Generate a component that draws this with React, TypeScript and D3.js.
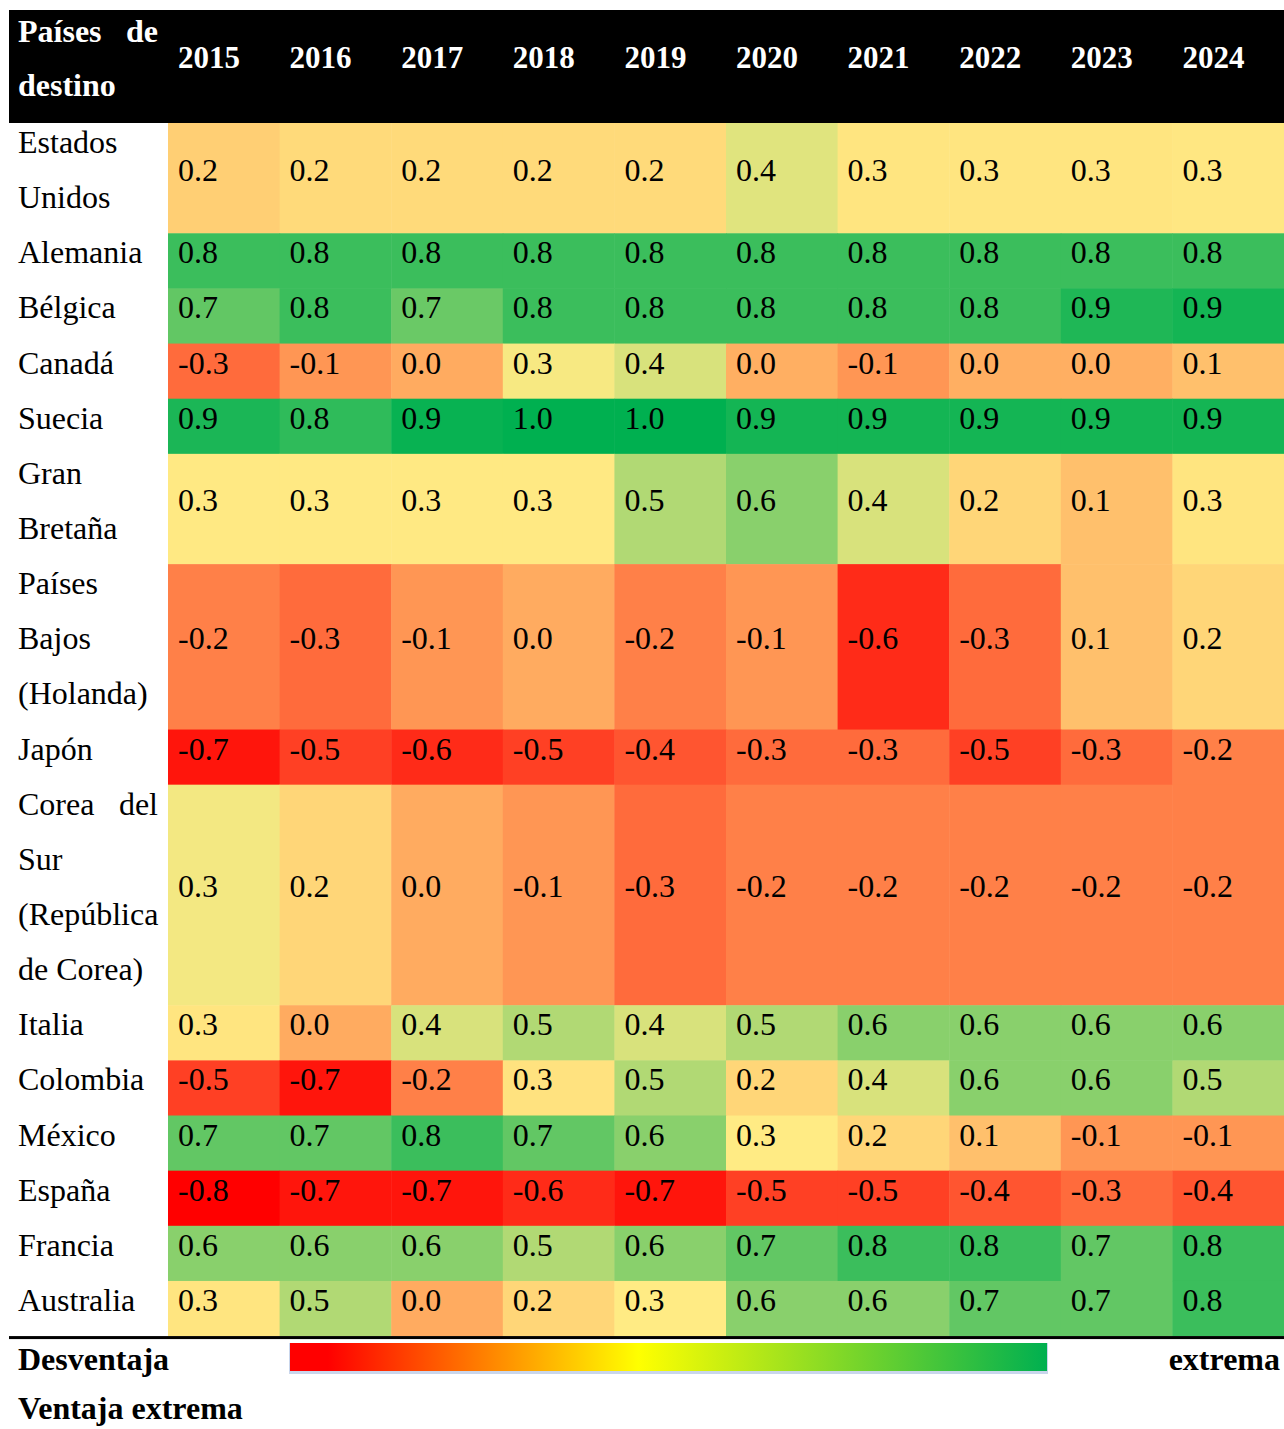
import React from 'react';
import * as d3 from 'd3';

// years shown as columns
const years = ['2015', '2016', '2017', '2018', '2019', '2020', '2021', '2022', '2023', '2024'];

// destination countries, already broken into the lines used in the table
const countries: string[][] = [
  ['Estados', 'Unidos'],
  ['Alemania'],
  ['Bélgica'],
  ['Canadá'],
  ['Suecia'],
  ['Gran', 'Bretaña'],
  ['Países', 'Bajos', '(Holanda)'],
  ['Japón'],
  ['Corea del', 'Sur', '(República', 'de Corea)'],
  ['Italia'],
  ['Colombia'],
  ['México'],
  ['España'],
  ['Francia'],
  ['Australia'],
];

// index values per country, 2015..2024
const estadosUnidos = [0.17, 0.22, 0.22, 0.22, 0.22, 0.38, 0.27, 0.27, 0.27, 0.28];
const alemania = [0.8, 0.8, 0.8, 0.8, 0.8, 0.8, 0.8, 0.8, 0.8, 0.8];
const belgica = [0.7, 0.8, 0.68, 0.8, 0.8, 0.8, 0.8, 0.8, 0.87, 0.9];
const canada = [-0.3, -0.1, 0.0, 0.32, 0.4, 0.02, -0.1, 0.02, 0.02, 0.1];
const suecia = [0.88, 0.83, 0.93, 0.97, 0.97, 0.9, 0.9, 0.9, 0.9, 0.9];
const granBretana = [0.29, 0.29, 0.29, 0.29, 0.5, 0.6, 0.4, 0.2, 0.1, 0.27];
const paisesBajos = [-0.2, -0.3, -0.1, 0.0, -0.2, -0.1, -0.6, -0.3, 0.1, 0.2];
const japon = [-0.7, -0.5, -0.6, -0.5, -0.4, -0.3, -0.3, -0.5, -0.3, -0.2];
const corea = [0.33, 0.2, 0.0, -0.1, -0.3, -0.2, -0.2, -0.2, -0.2, -0.2];
const italia = [0.27, 0.0, 0.4, 0.5, 0.4, 0.5, 0.6, 0.6, 0.6, 0.6];
const colombia = [-0.5, -0.7, -0.2, 0.26, 0.5, 0.2, 0.4, 0.6, 0.6, 0.5];
const mexico = [0.7, 0.7, 0.8, 0.7, 0.6, 0.3, 0.2, 0.1, -0.1, -0.1];
const espana = [-0.8, -0.7, -0.7, -0.6, -0.7, -0.5, -0.5, -0.4, -0.3, -0.4];
const francia = [0.6, 0.6, 0.6, 0.5, 0.6, 0.7, 0.8, 0.8, 0.7, 0.8];
const australia = [0.27, 0.5, 0.0, 0.2, 0.3, 0.6, 0.6, 0.7, 0.7, 0.8];

const values = [
  estadosUnidos, alemania, belgica, canada, suecia, granBretana, paisesBajos,
  japon, corea, italia, colombia, mexico, espana, francia, australia,
];

const FONT = "'Liberation Serif', 'Times New Roman', serif";
const FS = 32;

export default function App() {
  const width = 1284;
  const height = 1429;
  const left = 9;
  const headTop = 10;
  const headBottom = 123;
  const lineH = 55.14;
  const labelX = 18;
  const labelRight = 158;

  const x = d3.scaleBand<string>().domain(years).range([168, width]).paddingInner(0);

  const color = d3
    .scaleLinear<string>()
    .domain([-0.8, 0.3, 0.95])
    .range(['#FF0000', '#FFEB84', '#00B050'])
    .clamp(true);

  // row tops from number of text lines
  const rowTops: number[] = [];
  let acc = headBottom;
  countries.forEach((c) => {
    rowTops.push(acc);
    acc += c.length * lineH;
  });
  const tableBottom = acc;

  const fmt = (v: number) => {
    const s = (Math.round(v * 10) / 10).toFixed(1);
    return s === '-0.0' ? '0.0' : s;
  };

  // justified line: first word left, last word flush right
  const renderLine = (line: string, justify: boolean, y: number, key: string, bold = false, fill = '#000') => {
    const words = line.split(' ');
    if (justify && words.length > 1) {
      return (
        <g key={key}>
          <text x={labelX} y={y} fontWeight={bold ? 'bold' : 'normal'} fill={fill}>{words[0]}</text>
          <text x={labelRight} y={y} textAnchor="end" fontWeight={bold ? 'bold' : 'normal'} fill={fill}>
            {words.slice(1).join(' ')}
          </text>
        </g>
      );
    }
    return (
      <text key={key} x={labelX} y={y} fontWeight={bold ? 'bold' : 'normal'} fill={fill}>{line}</text>
    );
  };

  const barX = 290;
  const barW = 757;
  const barY = 1343;
  const barH = 28;

  return (
    <svg
      width={width}
      height={height}
      style={{ position: 'absolute', left: 0, top: 0, display: 'block', background: '#fff' }}
      fontFamily={FONT}
      fontSize={FS}
    >
      <defs>
        <linearGradient id="legendGrad" x1="0" x2="1" y1="0" y2="0">
          <stop offset="0" stopColor="#FF0000" />
          <stop offset="0.05" stopColor="#FF0000" />
          <stop offset="0.46" stopColor="#FFFF00" />
          <stop offset="1" stopColor="#00B050" />
        </linearGradient>
      </defs>

      {/* header */}
      <rect x={left} y={headTop} width={width - left} height={headBottom - headTop} fill="#000" />
      {renderLine('Países de', true, 42, 'h1', true, '#fff')}
      {renderLine('destino', false, 96, 'h2', true, '#fff')}
      {years.map((yr) => (
        <text key={yr} x={(x(yr) as number) + 10} y={68} fill="#fff" fontWeight="bold" fontSize={31}>
          {yr}
        </text>
      ))}

      {/* cells */}
      {values.map((row, i) =>
        row.map((v, j) => (
          <rect
            key={`c${i}-${j}`}
            x={x(years[j]) as number}
            y={rowTops[i]}
            width={x.bandwidth() + 0.5}
            height={countries[i].length * lineH + 0.5}
            fill={color(v)}
          />
        ))
      )}

      {/* row labels */}
      {countries.map((lines, i) =>
        lines.map((ln, k) =>
          renderLine(ln, k < lines.length - 1, rowTops[i] + k * lineH + 30, `l${i}-${k}`)
        )
      )}

      {/* values */}
      {values.map((row, i) => {
        const cy = rowTops[i] + (countries[i].length * lineH) / 2 + 2.5;
        return row.map((v, j) => (
          <text key={`t${i}-${j}`} x={(x(years[j]) as number) + 10} y={cy} fill="#000">
            {fmt(v)}
          </text>
        ));
      })}

      {/* bottom rule */}
      <rect x={left} y={tableBottom} width={width - left} height={3} fill="#000" />

      {/* legend */}
      <text x={labelX} y={1370} fontWeight="bold">Desventaja</text>
      <rect x={barX - 1} y={barY} width={barW + 2} height={barH + 3} fill="#C9D6EC" />
      <rect x={barX} y={barY} width={barW} height={barH} fill="url(#legendGrad)" />
      <text x={1280} y={1370} fontWeight="bold" textAnchor="end">extrema</text>
      <text x={labelX} y={1419} fontWeight="bold">Ventaja extrema</text>
    </svg>
  );
}
